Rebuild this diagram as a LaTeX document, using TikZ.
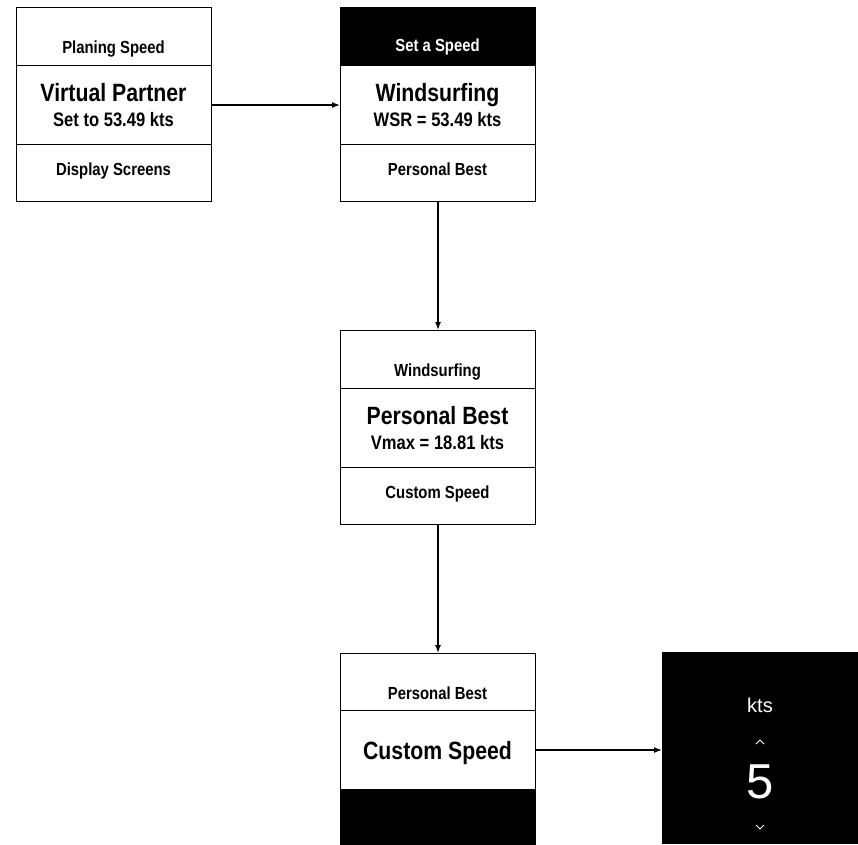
\documentclass[tikz,border=0pt]{standalone}
\usepackage{fontspec}
\setmainfont{Liberation Sans}[FakeStretch=0.85]
\newfontfamily\plainfont{Liberation Sans}
\usetikzlibrary{arrows.meta}
\begin{document}
\begin{tikzpicture}[x=1pt,y=-1pt,
  sect/.style={draw=black, line width=1pt, inner sep=0pt, minimum width=195pt, anchor=north west},
  dark/.style={sect, fill=black},
  small/.style={font=\bfseries\fontsize{17.5}{20}\selectfont, anchor=base, inner sep=0pt},
  smallw/.style={small, text=white},
  big/.style={font=\bfseries\fontsize{25}{30}\selectfont, anchor=base, inner sep=0pt},
  sub/.style={font=\bfseries\fontsize{19.5}{23}\selectfont, anchor=base, inner sep=0pt},
  conn/.style={line width=1.4pt, -{Latex[length=8pt,width=6pt]}},
  chev/.style={white, line width=0.9pt}]
\useasboundingbox (0,0) rectangle (858,844);
% box 1
\node[sect, minimum height=58pt] (a1) at (16,7) {};
\node[sect, minimum height=79pt] (a2) at (16,65) {};
\node[sect, minimum height=57pt] (a3) at (16,144) {};
\node[small] (ta1) at (113.5,53) {Planing Speed};
\node[big] (ta2) at (113.5,101) {Virtual Partner};
\node[sub] (ta3) at (113.5,126) {Set to 53.49 kts};
\node[small] (ta4) at (113.5,175) {Display Screens};
% box 2
\node[dark, minimum height=58pt] (b1) at (340,7) {};
\node[sect, minimum height=79pt] (b2) at (340,65) {};
\node[sect, minimum height=57pt] (b3) at (340,144) {};
\node[smallw] (tb1) at (437.5,51) {Set a Speed};
\node[big] (tb2) at (437.5,101) {Windsurfing};
\node[sub] (tb3) at (437.5,126) {WSR = 53.49 kts};
\node[small] (tb4) at (437.5,175) {Personal Best};
% box 3
\node[sect, minimum height=58pt] (c1) at (340,330) {};
\node[sect, minimum height=79pt] (c2) at (340,388) {};
\node[sect, minimum height=57pt] (c3) at (340,467) {};
\node[small] (tc1) at (437.5,376) {Windsurfing};
\node[big] (tc2) at (437.5,424) {Personal Best};
\node[sub] (tc3) at (437.5,449) {Vmax = 18.81 kts};
\node[small] (tc4) at (437.5,498) {Custom Speed};
% box 4
\node[sect, minimum height=57pt] (d1) at (340,653) {};
\node[sect, minimum height=79pt] (d2) at (340,710) {};
\node[dark, minimum height=55pt] (d3) at (340,789) {};
\node[small] (td1) at (437.5,699) {Personal Best};
\node[big] (td2) at (437.5,759) {Custom Speed};
% screen
\node[fill=black, inner sep=0pt, minimum width=196pt, minimum height=192pt, anchor=north west] (scr) at (662,652) {};
\node[font=\plainfont\fontsize{20}{24}\selectfont, text=white, anchor=base, inner sep=0pt] (kts) at (760,712) {kts};
\node[font=\plainfont\fontsize{49}{56}\selectfont, text=white, anchor=base, inner sep=0pt] (five) at (760,798) {5};
\draw[chev] (756,744) -- (760,740) -- (764,744);
\draw[chev] (756,825) -- (760,829) -- (764,825);
% connectors
\draw[conn] (a2.east) -- (b2.west);
\draw[conn] (b3.south) -- (c1.north);
\draw[conn] (c3.south) -- (d1.north);
\draw[conn] (d2.east) -- (d2.east -| scr.west);
\end{tikzpicture}
\end{document}
